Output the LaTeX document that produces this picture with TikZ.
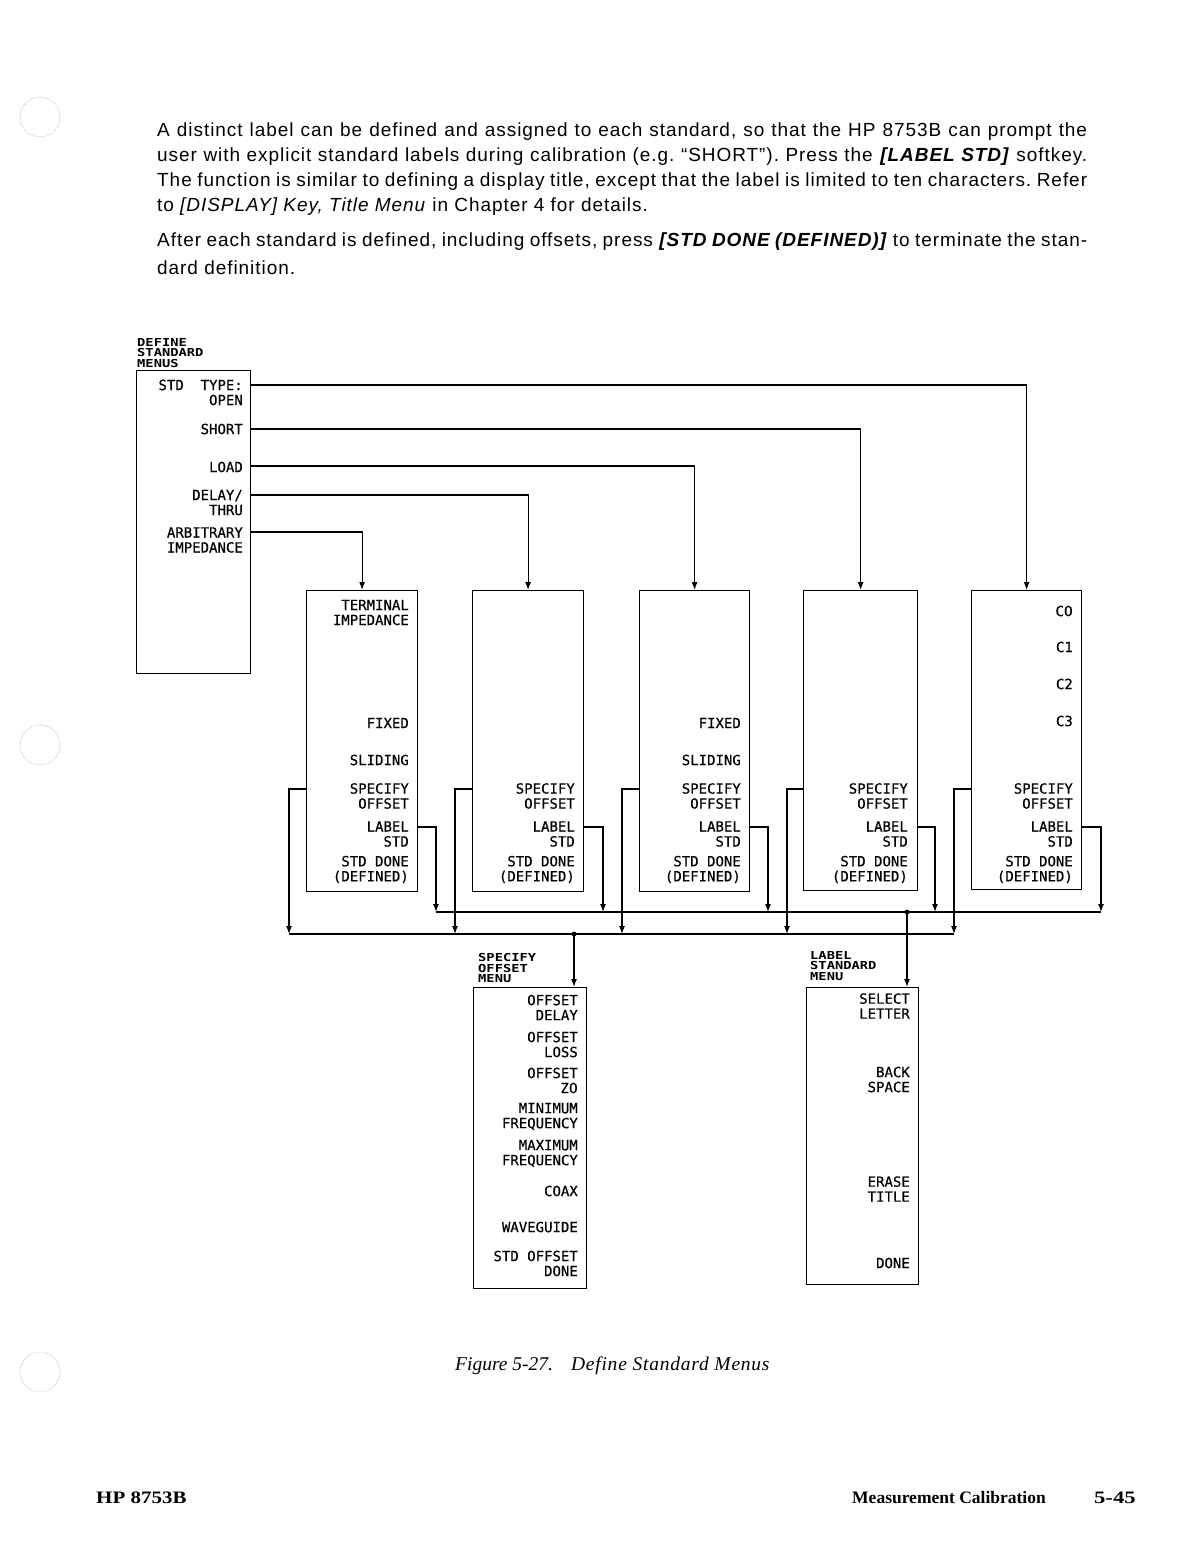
\documentclass[tikz,border=0pt]{standalone}
\usepackage{fontspec}
\setmainfont{Liberation Sans}
\newfontfamily\parafont{Liberation Sans}[LetterSpace=5]
\newfontfamily\hpfont{DejaVu Sans Mono}[FakeBold=0.4]
\newfontfamily\hpzerofont{DejaVu Sans}[FakeBold=0.4]
\newfontfamily\hdrfont{DejaVu Sans Mono}[FakeStretch=1.25]
\newfontfamily\capfont{Liberation Serif}
\newcommand\hpzero{{\hpzerofont 0}}
\usetikzlibrary{arrows.meta,calc}
\frenchspacing
\begin{document}
\begin{tikzpicture}[x=1pt,y=-1pt,
  menubox/.style={draw, line width=1.2pt, rectangle, anchor=north west, inner sep=0pt},
  key/.style={anchor=east, align=right, inner sep=0pt, font=\hpfont\fontsize{14}{15}\selectfont},
  hdr/.style={anchor=west, align=left, inner sep=0pt, font=\hdrfont\bfseries\fontsize{11}{10.5}\selectfont},
  para/.style={anchor=base west, inner sep=0pt, font=\parafont\fontsize{19}{22}\selectfont},
  wire/.style={line width=1.2pt},
  arr/.style={wire, -{Latex[length=8pt,width=6pt]}},
  hole/.style={gray!45, densely dotted, line width=0.8pt}
  ]
\fill[white] (0,0) rectangle (1176,1544);
\useasboundingbox (0,0) rectangle (1176,1544);

% punch holes
\draw[hole] (40,117) circle[radius=20pt];
\draw[hole] (40,745) circle[radius=20pt];
\draw[hole] (40,1372) circle[radius=20pt];

% paragraph
\node[para] (p1) at (157,136) {\makebox[930pt][s]{A distinct label can be defined and assigned to each standard, so that the HP 8753B can prompt the}};
\node[para] (p2) at (157,161) {\makebox[930pt][s]{user with explicit standard labels during calibration (e.g. “SHORT”). Press the \textbf{\textit{[LABEL STD]}} softkey.}};
\node[para] (p3) at (157,186) {\makebox[930pt][s]{The function is similar to defining a display title, except that the label is limited to ten characters. Refer}};
\node[para] (p4) at (157,211) {to \textit{[DISPLAY] Key, Title Menu} in Chapter 4 for details.};
\node[para] (p5) at (157,246) {\makebox[930pt][s]{After each standard is defined, including offsets, press \textbf{\textit{[STD DONE (DEFINED)]}} to terminate the stan-}};
\node[para] (p6) at (157,274) {dard definition.};

% main menu
\node[hdr] (hmain) at (137,353) {DEFINE\\STANDARD\\MENUS};
\node[menubox, minimum width=114pt, minimum height=303pt] (mainbox) at (136,370) {};
\node[key] (kopen) at (243,392.5) {STD\ \ TYPE:\\OPEN};
\node[key] (kshort) at (243,429) {SHORT};
\node[key] (kload) at (243,467) {LOAD};
\node[key] (kdelay) at (243,502.5) {DELAY/\\THRU};
\node[key] (karb) at (243,540) {ARBITRARY\\IMPEDANCE};

% second row boxes
\node[menubox, minimum width=111pt, minimum height=301pt] (b1) at (306,590) {};
\node[menubox, minimum width=111pt, minimum height=301pt] (b2) at (472,590) {};
\node[menubox, minimum width=110pt, minimum height=301pt] (b3) at (639,590) {};
\node[menubox, minimum width=114pt, minimum height=300pt] (b4) at (803,590) {};
\node[menubox, minimum width=110pt, minimum height=299pt] (b5) at (971,590) {};

% box 1
\node[key] (t1) at (409,612.5) {TERMINAL\\IMPEDANCE};
\node[key] (f1) at (409,723) {FIXED};
\node[key] (s1) at (409,760) {SLIDING};
\node[key] (o1) at (409,796) {SPECIFY\\OFFSET};
\node[key] (l1) at (409,834) {LABEL\\STD};
\node[key] (d1) at (409,869.5) {STD DONE\\(DEFINED)};
% box 2
\node[key] (o2) at (575,796) {SPECIFY\\OFFSET};
\node[key] (l2) at (575,834) {LABEL\\STD};
\node[key] (d2) at (575,869.5) {STD DONE\\(DEFINED)};
% box 3
\node[key] (f3) at (741,723) {FIXED};
\node[key] (s3) at (741,760) {SLIDING};
\node[key] (o3) at (741,796) {SPECIFY\\OFFSET};
\node[key] (l3) at (741,834) {LABEL\\STD};
\node[key] (d3) at (741,869.5) {STD DONE\\(DEFINED)};
% box 4
\node[key] (o4) at (908,796) {SPECIFY\\OFFSET};
\node[key] (l4) at (908,834) {LABEL\\STD};
\node[key] (d4) at (908,869.5) {STD DONE\\(DEFINED)};
% box 5
\node[key] (c0) at (1073,611) {C\hpzero};
\node[key] (c1) at (1073,647) {C1};
\node[key] (c2) at (1073,684) {C2};
\node[key] (c3) at (1073,721) {C3};
\node[key] (o5) at (1073,796) {SPECIFY\\OFFSET};
\node[key] (l5) at (1073,834) {LABEL\\STD};
\node[key] (d5) at (1073,869.5) {STD DONE\\(DEFINED)};

% connectors from main menu
\draw[arr] (mainbox.east |- 0,385) -| (b5.north);
\draw[arr] (mainbox.east |- 0,429) -| (b4.north);
\draw[arr] (mainbox.east |- 0,466) -| (b3.north);
\draw[arr] (mainbox.east |- 0,495) -| (b2.north);
\draw[arr] (mainbox.east |- 0,532) -| (b1.north);

% bus coordinates
\coordinate (sb1) at (289,934);
\coordinate (sb2) at (455,934);
\coordinate (sb3) at (622,934);
\coordinate (sb4) at (787,934);
\coordinate (sb5) at (954,934);
\coordinate (lb1) at (436,912);
\coordinate (lb2) at (603,912);
\coordinate (lb3) at (768,912);
\coordinate (lb4) at (935,912);
\coordinate (lb5) at (1101,912);
\coordinate (js) at (574,934);
\coordinate (jl) at (907,912);

% buses
\draw[wire] (lb1) -- (lb5);
\draw[wire] (sb1) -- (sb5);

% specify offset connectors
\draw[arr] (b1.west |- 0,789) -| (sb1);
\draw[arr] (b2.west |- 0,789) -| (sb2);
\draw[arr] (b3.west |- 0,789) -| (sb3);
\draw[arr] (b4.west |- 0,789) -| (sb4);
\draw[arr] (b5.west |- 0,789) -| (sb5);
% label std connectors
\draw[arr] (b1.east |- 0,827) -| (lb1);
\draw[arr] (b2.east |- 0,827) -| (lb2);
\draw[arr] (b3.east |- 0,827) -| (lb3);
\draw[arr] (b4.east |- 0,827) -| (lb4);
\draw[arr] (b5.east |- 0,827) -| (lb5);

% lower menus
\node[hdr] (hsom) at (478,968) {SPECIFY\\OFFSET\\MENU};
\node[menubox, minimum width=113pt, minimum height=301pt] (som) at (473,987) {};
\node[hdr] (hlsm) at (810,966) {LABEL\\STANDARD\\MENU};
\node[menubox, minimum width=112pt, minimum height=297pt] (lsm) at (806,987) {};

\fill (js) circle[radius=2.4pt];
\fill (jl) circle[radius=2.4pt];
\draw[arr] (js) -- (js |- som.north);
\draw[arr] (jl) -- (jl |- lsm.north);

% specify offset menu keys
\node[key] (sm1) at (578,1007.5) {OFFSET\\DELAY};
\node[key] (sm2) at (578,1044.5) {OFFSET\\LOSS};
\node[key] (sm3) at (578,1080.5) {OFFSET\\Z\hpzero};
\node[key] (sm4) at (578,1116.5) {MINIMUM\\FREQUENCY};
\node[key] (sm5) at (578,1153.5) {MAXIMUM\\FREQUENCY};
\node[key] (sm6) at (578,1191) {COAX};
\node[key] (sm7) at (578,1227) {WAVEGUIDE};
\node[key] (sm8) at (578,1263.5) {STD OFFSET\\DONE};

% label standard menu keys
\node[key] (lm1) at (910,1006) {SELECT\\LETTER};
\node[key] (lm2) at (910,1079.5) {BACK\\SPACE};
\node[key] (lm3) at (910,1189) {ERASE\\TITLE};
\node[key] (lm4) at (910,1263) {DONE};

% caption and footer
\node[anchor=base west, inner sep=0pt, font=\capfont\itshape\fontsize{19.5}{22}\selectfont] (cap) at (455,1370) {Figure 5-27.\hspace{18pt}\addfontfeatures{LetterSpace=4}Define Standard Menus};
\node[anchor=base west, inner sep=0pt, font=\capfont\bfseries\fontsize{17.5}{20}\selectfont] (fl) at (96,1503) {\scalebox{1.2}[1]{HP 8753B}};
\node[anchor=base west, inner sep=0pt, font=\capfont\bfseries\fontsize{17.5}{20}\selectfont] (fm) at (852,1503) {Measurement Calibration};
\node[anchor=base east, inner sep=0pt, font=\capfont\bfseries\fontsize{17.5}{20}\selectfont] (fr) at (1136,1503) {\scalebox{1.3}[1]{5-45}};
\end{tikzpicture}
\end{document}
